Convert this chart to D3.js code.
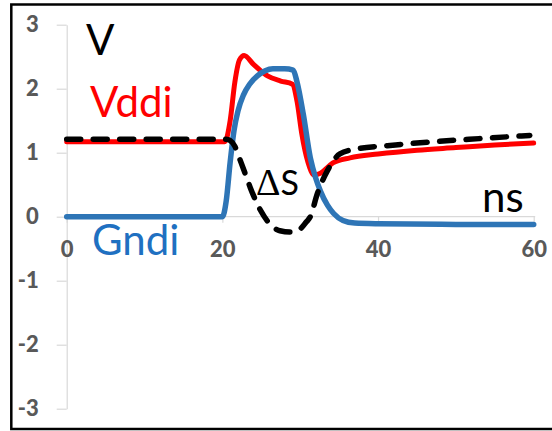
<!DOCTYPE html>
<html>
<head>
<meta charset="utf-8">
<script src="https://cdn.jsdelivr.net/npm/d3@7"></script>
<style>
  body { margin: 0; background: #fff; }
  .axis .domain, .axis line { stroke: #d9d9d9; stroke-width: 1.2; }
  .axis text { fill: #595959; font-family: Lato, "Liberation Sans", sans-serif; font-weight: 900; font-size: 22px; }
  .lbl { font-family: Lato, "Liberation Sans", sans-serif; }
</style>
</head>
<body>
<div id="chart"></div>
<script>
// --- DATOS ---
const xTicks = [0, 20, 40, 60];
const yTicks = [-3, -2, -1, 0, 1, 2, 3];

// Vddi (rojo)
const vddiT = [0, 20.3, 21.0, 21.6, 22.2, 22.8, 24, 25.8, 27.5, 29.0, 29.6, 30.2, 31.0, 31.8, 32.6, 34.2, 36.4, 40, 45, 50, 55, 60];
const vddiV = [1.17, 1.17, 1.5, 2.1, 2.45, 2.52, 2.38, 2.2, 2.12, 2.07, 1.8, 1.3, 0.85, 0.65, 0.68, 0.84, 0.92, 0.98, 1.04, 1.08, 1.12, 1.15];

// Gndi (azul)
const gndiT = [0, 20, 20.5, 21.0, 21.5, 22.0, 22.7, 23.5, 24.5, 25.5, 26.5, 28, 29.1, 29.6, 30.4, 31.3, 32.0, 32.6, 33.5, 34.3, 35.5, 37, 40, 50, 60];
const gndiV = [0, 0, 0.25, 0.85, 1.35, 1.65, 1.9, 2.07, 2.2, 2.28, 2.31, 2.31, 2.29, 2.1, 1.6, 0.92, 0.6, 0.4, 0.18, 0.05, -0.06, -0.1, -0.11, -0.12, -0.12];

// Delta S (negro, discontinua)
const dsT = [0, 20.5, 21.0, 21.6, 22.3, 23.0, 23.6, 24.9, 26, 27.4, 28.7, 30, 30.8, 31.3, 32.2, 33.5, 35.1, 37.3, 41.2, 47, 53, 59.5];
const dsV = [1.21, 1.21, 1.19, 1.1, 0.88, 0.65, 0.45, 0.1, -0.1, -0.22, -0.24, -0.19, -0.08, 0.0, 0.36, 0.72, 0.98, 1.06, 1.11, 1.17, 1.22, 1.27];

// --- SVG ---
const W = 552, H = 431;
const margin = { top: 24.7, right: 18.3, bottom: 22.3, left: 66.7 };
const width = W - margin.left - margin.right;
const height = H - margin.top - margin.bottom;

const root = d3.select("#chart").append("svg")
    .attr("width", W)
    .attr("height", H);

// marco
root.append("rect")
    .attr("x", 11.3).attr("y", 4.5)
    .attr("width", 560).attr("height", 424.5)
    .attr("fill", "none")
    .attr("stroke", "#000")
    .attr("stroke-width", 2.5);

const svg = root.append("g")
    .attr("transform", `translate(${margin.left},${margin.top})`);

// --- ESCALAS ---
const x = d3.scaleLinear().domain([0, 60]).range([0, width]);
const y = d3.scaleLinear().domain([-3, 3]).range([height, 0]);

// --- EJES ---
svg.append("g")
    .attr("class", "axis")
    .call(d3.axisLeft(y).tickValues(yTicks).tickSize(10).tickSizeOuter(0).tickPadding(18).tickFormat(d => String(d)));

svg.append("g")
    .attr("class", "axis")
    .attr("transform", `translate(0,${y(0)})`)
    .call(d3.axisBottom(x).tickValues(xTicks).tickSize(6).tickSizeOuter(0).tickPadding(19).tickFormat(d => String(d)))
    .call(g => g.select(".domain").attr("d", `M0,0H${x(60) + 1.5}`));

// --- LINEAS ---
const line = d3.line()
    .x(d => x(d[0]))
    .y(d => y(d[1]))
    .curve(d3.curveMonotoneX);

const series = [
    { t: vddiT, v: vddiV, color: "#ff0000", w: 5, dash: null },
    { t: gndiT, v: gndiV, color: "#2e75b6", w: 5.5, dash: null },
    { t: dsT, v: dsV, color: "#000000", w: 5.5, dash: "14,12.5" }
];

series.forEach(s => {
    svg.append("path")
        .datum(d3.zip(s.t, s.v))
        .attr("fill", "none")
        .attr("stroke", s.color)
        .attr("stroke-width", s.w)
        .attr("stroke-linecap", "round")
        .attr("stroke-linejoin", "round")
        .attr("stroke-dasharray", s.dash)
        .attr("d", line);
});

// --- ETIQUETAS ---
const labels = [
    { text: "V", x: 86, y: 55, size: 42, color: "#000" },
    { text: "Vddi", x: 90, y: 117, size: 42, color: "#ff0000" },
    { text: "Gndi", x: 92, y: 255, size: 42, color: "#1f70c1" },
    { text: "ns", x: 482, y: 212, size: 42, color: "#000" }
];

root.selectAll(".lbl")
    .data(labels)
    .enter()
    .append("text")
    .attr("class", "lbl")
    .attr("x", d => d.x)
    .attr("y", d => d.y)
    .attr("font-size", d => d.size)
    .attr("fill", d => d.color)
    .text(d => d.text);

// Delta S
const ds = root.append("text")
    .attr("class", "lbl")
    .attr("x", 256)
    .attr("y", 195)
    .attr("fill", "#000");
ds.append("tspan")
    .attr("font-family", "'Liberation Serif', serif")
    .attr("font-size", 38)
    .text("\u0394");
ds.append("tspan")
    .attr("font-size", 34)
    .text("S");
</script>
</body>
</html>
